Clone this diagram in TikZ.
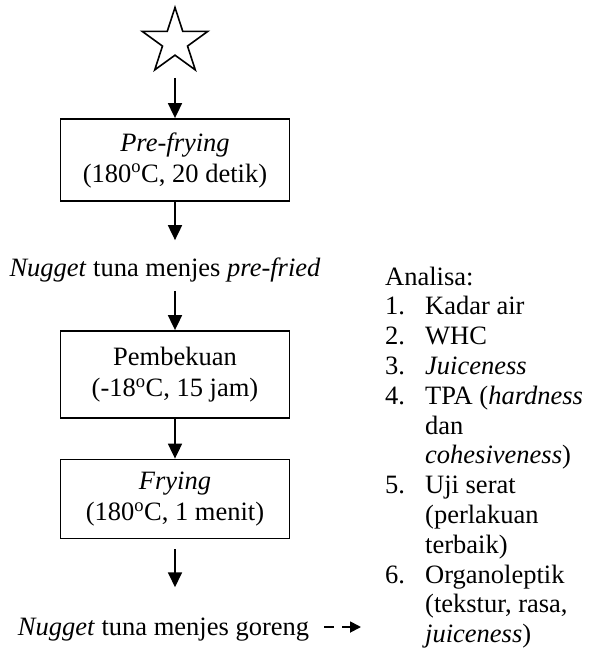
\documentclass[tikz,border=0pt]{standalone}
\usepackage{fontspec}
\setmainfont{Liberation Serif}
\usetikzlibrary{arrows.meta,shapes.geometric}

\tikzset{
  txt/.style={font=\fontsize{26.5}{31}\selectfont, inner sep=0pt},
  listtxt/.style={font=\fontsize{26.5}{29.8}\selectfont, inner sep=0pt},
  stepbox/.style={txt, draw, line width=1.8pt, minimum width=229pt, align=center},
  arr/.style={line width=1.8pt, -{Triangle[length=15pt,width=14pt]}},
  dasharr/.style={line width=1.8pt, dash pattern=on 10pt off 8pt, -{Triangle[length=11pt,width=11pt]}},
}

\newcommand{\dg}{\textsuperscript{o}}
\newcommand{\itemnum}[1]{\makebox[40pt][l]{#1}}

\begin{document}
\begin{tikzpicture}[x=1pt, y=-1pt]
  \useasboundingbox (0,0) rectangle (592,660);

  % start symbol
  \node[star, star points=5, star point ratio=2.618, draw, line width=1.6pt,
        minimum size=69pt, inner sep=0pt] (st) at (175,42) {};

  % process steps
  \node[stepbox, minimum height=82pt] (b1) at (175,160)
       {\textit{Pre-frying}\\(180\dg C, 20 detik)};
  \node[txt, anchor=base] (pf) at (165,276)
       {\textit{Nugget} tuna menjes \textit{pre-fried}};
  \node[stepbox, minimum height=87pt] (b2) at (175,374.5)
       {Pembekuan\\(-18\dg C, 15 jam)};
  \node[stepbox, minimum height=79pt] (b3) at (175,499)
       {\textit{Frying}\\(180\dg C, 1 menit)};
  \node[txt, anchor=base] (gr) at (163.5,635)
       {\textit{Nugget} tuna menjes goreng};
  \coordinate (grend) at (361,627);

  % analyses
  \node[listtxt, anchor=base west] (an) at (385,285) {%
    \begin{tabular}[t]{@{}l@{}l@{}}
      \multicolumn{2}{@{}l@{}}{Analisa:}\\
      \itemnum{1.} & Kadar air\\
      \itemnum{2.} & WHC\\
      \itemnum{3.} & \textit{Juiceness}\\
      \itemnum{4.} & TPA (\textit{hardness}\\
               & dan\\
               & \textit{cohesiveness})\\
      \itemnum{5.} & Uji serat\\
               & (perlakuan\\
               & terbaik)\\
      \itemnum{6.} & Organoleptik\\
               & (tekstur, rasa,\\
               & \textit{juiceness})
    \end{tabular}};

  % connectors
  \draw[arr] ([yshift=-36pt]st.center) -- (b1.north);
  \draw[arr] (b1.south) -- ([yshift=17pt]b1.south |- pf.north);
  \draw[arr] ([yshift=-9pt]b1.south |- pf.south) -- (b2.north);
  \draw[arr] (b2.south) -- (b3.north);
  \draw[arr] ([yshift=-10pt]b3.south) -- ([yshift=30pt]b3.south |- gr.north);
  \draw[dasharr] ([xshift=15pt,yshift=8pt]gr.base east) -- (grend);
\end{tikzpicture}
\end{document}
